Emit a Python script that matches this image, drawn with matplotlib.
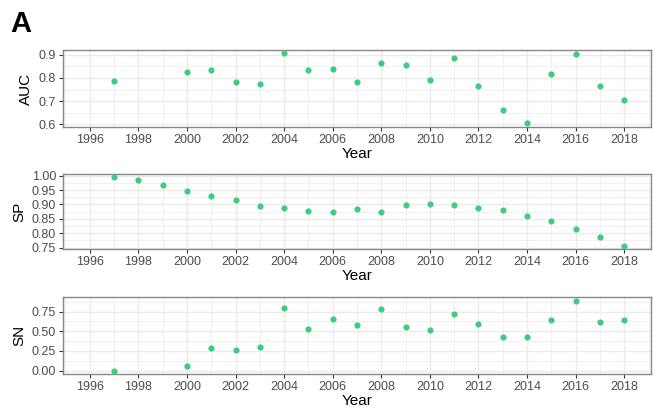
import numpy as np
from matplotlib import pyplot as plt
from matplotlib.ticker import MultipleLocator

plt.rcParams['font.family'] = ['Liberation Sans', 'DejaVu Sans']

years_auc = [1997, 2000, 2001, 2002, 2003, 2004, 2005, 2006, 2007, 2008,
             2009, 2010, 2011, 2012, 2013, 2014, 2015, 2016, 2017, 2018]
auc = [0.789, 0.824, 0.833, 0.781, 0.776, 0.906, 0.836, 0.841, 0.781, 0.864,
       0.857, 0.791, 0.887, 0.766, 0.660, 0.603, 0.819, 0.903, 0.764, 0.704]

years_sp = list(range(1997, 2019))
sp = [0.994, 0.984, 0.968, 0.948, 0.930, 0.916, 0.895, 0.889, 0.876, 0.875, 0.885,
      0.873, 0.899, 0.903, 0.898, 0.887, 0.879, 0.861, 0.843, 0.814, 0.786, 0.757]

years_sn = years_auc
sn = [0.000, 0.055, 0.288, 0.263, 0.301, 0.797, 0.525, 0.653, 0.576, 0.784,
      0.559, 0.517, 0.720, 0.589, 0.424, 0.424, 0.636, 0.890, 0.614, 0.640]

point_color = "#3ECD7F"

fig = plt.figure(figsize=(6.53, 4.13), dpi=100)

panels = [
    ("AUC", years_auc, auc, [0.6, 0.7, 0.8, 0.9], "{:.1f}", 0.05, [50, 127]),
    ("SP", years_sp, sp, [0.75, 0.80, 0.85, 0.90, 0.95, 1.00], "{:.2f}", 0.025, [174, 249]),
    ("SN", years_sn, sn, [0.0, 0.25, 0.5, 0.75], "{:.2f}", 0.125, [297, 374]),
]

W, H = 653, 413
for name, xs, ys, yt, fmt, minor, (top, bot) in panels:
    ax = fig.add_axes([63 / W, 1 - bot / H, 588 / W, (bot - top) / H])
    ax.scatter(xs, ys, s=20, color=point_color, zorder=3, linewidths=0)
    # ggplot style expansion
    lo, hi = min(ys), max(ys)
    pad = (hi - lo) * 0.05
    ax.set_ylim(lo - pad, hi + pad)
    ax.set_xlim(1996 - 1.1, 2018 + 1.1)
    ax.set_xticks(range(1996, 2019, 2))
    ax.xaxis.set_minor_locator(MultipleLocator(1))
    ax.set_yticks(yt)
    ax.set_yticklabels([fmt.format(v) for v in yt])
    ax.yaxis.set_minor_locator(MultipleLocator(minor))
    ax.grid(which="major", color="#ebebeb", lw=1.0)
    ax.grid(which="minor", color="#ebebeb", lw=0.5)
    ax.set_axisbelow(True)
    ax.tick_params(which="minor", length=0)
    ax.tick_params(which="major", length=3, width=0.8, color="#333333",
                   labelsize=9, labelcolor="#4d4d4d", pad=2)
    for s in ax.spines.values():
        s.set_color("#888888")
        s.set_linewidth(1.0)
    ax.set_xlabel("Year", fontsize=11, labelpad=1)
    ax.set_ylabel(name, fontsize=11, labelpad=4)

fig.text(10 / W, 1 - 32 / H, "A", fontsize=21, fontweight="bold")

plt.savefig("out.png", dpi=100)
